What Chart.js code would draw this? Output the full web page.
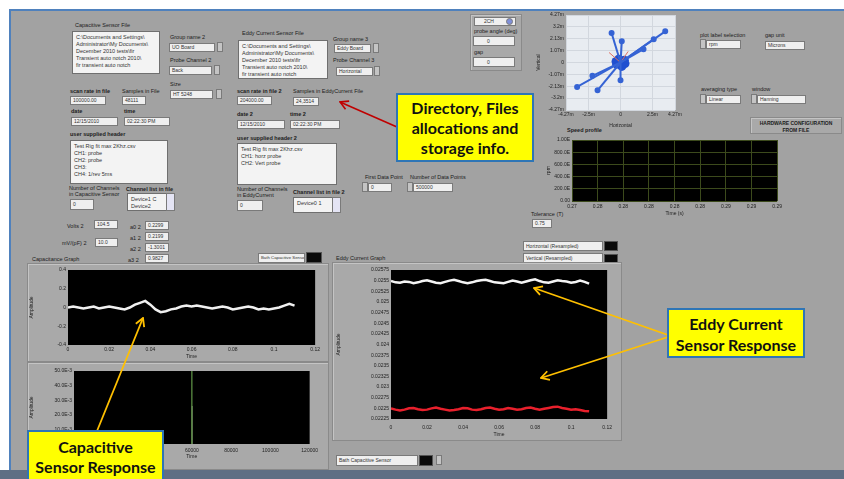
<!DOCTYPE html>
<html>
<head>
<meta charset="utf-8">
<script src="https://cdn.jsdelivr.net/npm/chart.js@4.4.1/dist/chart.umd.min.js"></script>
<style>
body { margin:0; width:844px; height:479px; position:relative; overflow:hidden; background:#fff; font-family:"Liberation Sans", Arial, sans-serif; }
#panel { position:absolute; left:9px; top:9px; width:835px; height:462px; background:#a2a2a2; border-left:2px solid #4f81bd; border-top:2px solid #4f81bd; }
#strip { position:absolute; left:0; top:470px; width:844px; height:9px; background:#5f6f84; }
.e { position:absolute; white-space:nowrap; }
.lbl { font-size:5.5px; color:#1c1c1c; }
.b { font-weight:bold; }
.box { background:#efefef; border:1px solid #7a7a7a; font-size:5px; color:#333; padding-left:2px; box-sizing:border-box; overflow:hidden; }
.area { background:#f3f3f3; border:1px solid #6f6f6f; font-size:5.5px; line-height:7.5px; color:#333; padding:2px 3px; box-sizing:border-box; overflow:hidden; }
.frame { background:#a9a9a9; border:1px solid #8a8a8a; box-shadow: inset 1px 1px 0 #c4c4c4; }
.knob { background:#c4c4c4; border:1px solid #7a7a7a; box-sizing:border-box; }
.sq { background:#0a0a0a; border:1px solid #555; box-sizing:border-box; }
.chart { position:absolute; }
.call { position:absolute; background:#ffff00; border:2px solid #2e75b6; box-sizing:border-box; font-family:Lato, "Open Sans", sans-serif; font-weight:bold; font-size:16px; color:#111; text-align:center; }
svg { position:absolute; left:0; top:0; }
</style>
</head>
<body>
<div id="panel"></div>
<div id="ui"></div>

<div class="frame e" style="left:27px;top:263px;width:300px;height:97px"></div>
<div class="frame e" style="left:27px;top:362px;width:300px;height:106px"></div>
<div class="frame e" style="left:332px;top:262px;width:288px;height:177px"></div>

<div class="chart" style="left:535px;top:9px;width:149px;height:121px"><canvas id="orbit"></canvas></div>
<div class="chart" style="left:545px;top:135px;width:240px;height:83px"><canvas id="speed"></canvas></div>
<div class="chart" style="left:28px;top:265px;width:294px;height:96px"><canvas id="cap"></canvas></div>
<div class="chart" style="left:28px;top:366px;width:294px;height:95px"><canvas id="fft"></canvas></div>
<div class="chart" style="left:335px;top:265px;width:283px;height:174px"><canvas id="eddy"></canvas></div>

<div id="strip"></div>

<svg width="844" height="479">
  <defs>
    <marker id="hr" markerUnits="userSpaceOnUse" markerWidth="12" markerHeight="12" refX="1" refY="6" orient="auto">
      <path d="M9,1.5 L1,6 L9,10.5" fill="none" stroke="#c00000" stroke-width="1.6"/>
    </marker>
    <marker id="ho" markerUnits="userSpaceOnUse" markerWidth="12" markerHeight="12" refX="1" refY="6" orient="auto">
      <path d="M9,1.5 L1,6 L9,10.5" fill="none" stroke="#ffc000" stroke-width="1.8"/>
    </marker>
  </defs>
  <line x1="340" y1="102" x2="397" y2="127" stroke="#c00000" stroke-width="1.6" marker-start="url(#hr)"/>
  <line x1="534" y1="288" x2="668" y2="335" stroke="#ffc000" stroke-width="1.8" marker-start="url(#ho)"/>
  <line x1="541" y1="378" x2="668" y2="337" stroke="#ffc000" stroke-width="1.8" marker-start="url(#ho)"/>
  <line x1="143" y1="318" x2="97" y2="431" stroke="#ffc000" stroke-width="1.8" marker-start="url(#ho)"/>
</svg>

<div class="call" style="left:396px;top:93px;width:138px;height:69px;line-height:20px;padding-top:3px">Directory, Files<br>allocations and<br>storage info.</div>
<div class="call" style="left:667px;top:308px;width:138px;height:50px;line-height:21px;padding-top:3px">Eddy Current<br>Sensor Response</div>
<div class="call" style="left:27px;top:430px;width:137px;height:55px;line-height:20px;padding-top:5px">Capacitive<br>Sensor Response</div>

<script>
// time base shared by the capacitance and eddy current traces (s)
const sampleTime = [0, 0.0025, 0.005, 0.0075, 0.01, 0.0125, 0.015, 0.0175, 0.02, 0.0225,
    0.025, 0.0275, 0.03, 0.0325, 0.035, 0.0375, 0.04, 0.0425, 0.045, 0.0475,
    0.05, 0.0525, 0.055, 0.0575, 0.06, 0.0625, 0.065, 0.0675, 0.07, 0.0725,
    0.075, 0.0775, 0.08, 0.0825, 0.085, 0.0875, 0.09, 0.0925, 0.095, 0.0975,
    0.1, 0.1025, 0.105, 0.1075, 0.11];

const capAmplitude = [0.00, 0.01, 0.00, -0.01, 0.00, 0.01, -0.01, 0.00, 0.01, 0.00,
    -0.01, -0.02, 0.00, 0.03, 0.05, 0.07, 0.03, -0.02, -0.05, -0.04,
    -0.02, -0.01, 0.01, 0.02, 0.01, 0.02, 0.01, 0.00, -0.01, 0.00,
    0.01, 0.00, -0.02, -0.01, 0.00, 0.01, 0.00, -0.02, -0.01, -0.02,
    -0.01, 0.00, 0.02, 0.04, 0.02];

const eddyHorizontal = [0.02549, 0.02546, 0.02545, 0.02548, 0.02547, 0.02544, 0.02546, 0.02549, 0.02551, 0.02548,
    0.02545, 0.02544, 0.02547, 0.02550, 0.02552, 0.02549, 0.02546, 0.02544, 0.02546, 0.02549,
    0.02551, 0.02552, 0.02549, 0.02546, 0.02545, 0.02544, 0.02547, 0.02550, 0.02548, 0.02545,
    0.02548, 0.02551, 0.02553, 0.02549, 0.02546, 0.02545, 0.02548, 0.02551, 0.02549, 0.02548,
    0.02545, 0.02547, 0.02550, 0.02547, 0.02543];

const eddyVertical = [0.02250, 0.02247, 0.02245, 0.02247, 0.02250, 0.02251, 0.02248, 0.02246, 0.02247, 0.02250,
    0.02252, 0.02249, 0.02247, 0.02245, 0.02246, 0.02248, 0.02251, 0.02250, 0.02247, 0.02246,
    0.02248, 0.02251, 0.02252, 0.02249, 0.02247, 0.02248, 0.02251, 0.02249, 0.02247, 0.02248,
    0.02251, 0.02252, 0.02249, 0.02247, 0.02249, 0.02251, 0.02253, 0.02254, 0.02251, 0.02249,
    0.02247, 0.02248, 0.02246, 0.02244, 0.02243];

// lower capacitive plot: single spike
const spikeX = [60000, 60000];
const spikeY = [0, 0.05];
const spikeCoreY = [0, 0.026];

// orbit plot: segment end points from the centre
const orbitEnds = [[3.5, 2.8], [-3.4, -2.2], [-1.8, -2.5], [0.0, -1.6], [-0.7, 2.65], [0.1, 1.9], [1.8, 1.2], [2.6, 2.1], [-2.2, -1.2]];
const orbitRed = [[-0.9, 0.9], [0.6, 1.0]];
const orbitCore = [[0, 0], [0.3, 0.2], [-0.3, -0.15], [0.1, -0.35], [-0.15, 0.3], [0.35, -0.1], [-0.35, 0.1]];

// tick values
const timeTicks = [0, 0.02, 0.04, 0.06, 0.08, 0.1, 0.12];
const capYTicks = [-0.4, -0.2, 0, 0.2, 0.4];
const fftXTicks = [0, 20000, 40000, 60000, 80000, 100000, 120000];
const fftYTicks = [0, 0.01, 0.02, 0.03, 0.04, 0.05];
const eddyYTicks = [0.02225, 0.0225, 0.02275, 0.023, 0.02325, 0.0235, 0.02375, 0.024, 0.02425,
    0.0245, 0.02475, 0.025, 0.02525, 0.0255, 0.02575];
const speedXTicks = [0.274, 0.276, 0.278, 0.28, 0.282, 0.284, 0.286, 0.288, 0.29];
const speedYTicks = [0, 0.2, 0.4, 0.6, 0.8, 1.0];
const orbitXTicks = [-4.27, -2.5, 0, 2.5, 4.27];
const orbitYTicks = [-4.27, -3.2, -2.13, -1.07, 0, 1.07, 2.13, 3.2, 4.27];

// ---- front panel controls ----
const ui = document.getElementById('ui');
function put(cls, x, y, w, h, text) {
    let d = document.createElement('div');
    d.className = 'e ' + cls;
    d.style.left = x + 'px';
    d.style.top = y + 'px';
    if (w) d.style.width = w + 'px';
    if (h) { d.style.height = h + 'px'; d.style.lineHeight = (h - 2) + 'px'; }
    if (text) d.innerHTML = text;
    ui.appendChild(d);
    return d;
}
function lbl(x, y, t, bold) { put('lbl' + (bold ? ' b' : ''), x, y, 0, 0, t); }
function box(x, y, w, h, t) { return put('box', x, y, w, h, t); }
function area(x, y, w, h, lines) { let d = put('area', x, y, w, h, lines.join('<br>')); d.style.lineHeight = '7px'; }
function knob(x, y) { put('knob', x, y, 6, 10); }

const pathLines = ['C:\\Documents and Settings\\', 'Administrator\\My Documents\\', 'December 2010 tests\\fir', 'Transient auto notch 2010\\', 'fir transient auto notch'];

lbl(75, 22, 'Capacitive Sensor File');
area(72, 31, 88, 43, pathLines);
lbl(170, 34, 'Group name 2'); box(169, 43, 46, 9, 'UO Board'); knob(217, 42);
lbl(170, 57, 'Probe Channel 2'); box(169, 66, 43, 9, 'Back'); knob(214, 65);
lbl(170, 81, 'Size'); box(170, 90, 43, 9, 'HT 5248'); knob(216, 89);
lbl(70, 88, 'scan rate in file', true); lbl(122, 88, 'Samples in File');
box(70, 96, 36, 9, '100000.00'); box(122, 96, 24, 9, '48111');
lbl(71, 108, 'date', true); lbl(124, 108, 'time', true);
box(71, 117, 47, 9, '12/15/2010'); box(124, 117, 46, 9, '02:22:30 PM');
lbl(70, 131, 'user supplied header', true);
area(70, 140, 98, 44, ['Test Rig fit max 2Khz.csv', 'CH1: probe', 'CH2: probe', 'CH3:', 'CH4: 1/rev 5ms']);
lbl(69, 185, 'Number of Channels'); lbl(69, 191, 'in Capacitive Sensor');
lbl(126, 186, 'Channel list in file', true);
box(70, 199, 24, 11, '0');
area(127, 193, 40, 18, ['Device1 C', 'Device2']);
put('knob', 166, 193, 9, 18).style.background = '#e4e4f4';
lbl(67, 223, 'Volts 2'); box(94, 220, 24, 9, '104.5');
lbl(62, 240, 'mV/(pF) 2'); box(95, 238, 23, 9, '10.0');
lbl(130, 224, 'a0 2'); box(145, 221, 24, 9, '0.2299');
lbl(130, 235, 'a1 2'); box(145, 232, 24, 9, '0.2199');
lbl(130, 246, 'a2 2'); box(145, 243, 24, 9, '-1.3001');
lbl(128, 257, 'a3 2'); box(145, 254, 24, 9, '0.9827');

lbl(242, 30, 'Eddy Current Sensor File');
area(238, 40, 90, 39, pathLines);
lbl(333, 36, 'Group name 3'); box(334, 44, 37, 9, 'Eddy Board'); knob(373, 43);
lbl(333, 57, 'Probe Channel 3'); box(336, 67, 37, 9, 'Horizontal'); knob(374, 66);
lbl(237, 88, 'scan rate in file 2', true); lbl(293, 88, 'Samples in EddyCurrent File');
box(237, 96, 35, 9, '204000.00'); box(293, 97, 26, 9, '24,3514');
lbl(237, 111, 'date 2', true); lbl(290, 111, 'time 2', true);
box(237, 120, 48, 9, '12/15/2010'); box(290, 120, 50, 9, '02:22:30 PM');
lbl(237, 135, 'user supplied header 2', true);
area(237, 143, 100, 42, ['Test Rig fit max 2Khz.csv', 'CH1: horz probe', 'CH2: Vert probe']);
lbl(237, 186, 'Number of Channels'); lbl(237, 192, 'in EddyCurrent');
box(237, 200, 26, 11, '0');
lbl(293, 189, 'Channel list in file 2', true);
area(293, 197, 40, 16, ['Device0 1']);
put('knob', 332, 197, 9, 16).style.background = '#e4e4f4';
lbl(365, 174, 'First Data Point'); knob(362, 182); box(368, 183, 24, 9, '0');
lbl(410, 174, 'Number of Data Points'); knob(407, 182); box(413, 183, 40, 9, '500000');

put('frame', 470, 14, 50, 55);
box(474, 17, 42, 9, '&nbsp;&nbsp;&nbsp;&nbsp;&nbsp;2CH');
put('knob', 506, 18, 7, 7).style.cssText += 'border-radius:50%;background:#7f8fd8';
lbl(474, 28, 'probe angle (deg)'); box(473, 36, 42, 10, '&nbsp;&nbsp;&nbsp;&nbsp;&nbsp;&nbsp;&nbsp;&nbsp;0');
lbl(474, 49, 'gap'); box(473, 57, 42, 10, '&nbsp;&nbsp;&nbsp;&nbsp;&nbsp;&nbsp;&nbsp;&nbsp;0');

lbl(700, 32, 'plot label selection'); knob(700, 39); box(706, 40, 35, 9, 'rpm');
lbl(765, 32, 'gap unit'); box(765, 41, 40, 9, 'Microns');
lbl(701, 86, 'averaging type'); knob(700, 94); box(706, 95, 35, 9, 'Linear');
lbl(752, 86, 'window'); knob(751, 94); box(757, 95, 49, 9, 'Hanning');
let hw = put('frame lbl b', 750, 117, 92, 17, 'HARDWARE CONFIGURATION<br>FROM FILE');
hw.style.cssText += 'text-align:center;line-height:6.5px;font-size:5px;padding-top:2px;box-sizing:border-box';
lbl(567, 127, 'Speed profile', true);
lbl(531, 211, 'Tolerance (T)'); box(532, 219, 20, 9, '0.75');

lbl(32, 256, 'Capacitance Graph');
box(258, 253, 47, 10, 'Bath Capacitive Sensor').style.fontSize = '4.3px'; put('sq', 306, 252, 16, 11);
lbl(336, 255, 'Eddy Current Graph');
box(523, 241, 80, 10, 'Horizontal (Resampled)'); put('sq', 604, 241, 14, 10);
box(523, 253, 80, 10, 'Vertical (Resampled)'); put('sq', 604, 254, 14, 10);
box(336, 455, 82, 11, 'Bath Capacitive Sensor'); put('sq', 419, 455, 14, 11); knob(436, 455);

// ---- charts ----
const plotBg = {
    id: 'plotBg',
    beforeDraw(chart, args, opts) {
        let a = chart.chartArea;
        chart.ctx.save();
        chart.ctx.fillStyle = opts.color;
        chart.ctx.fillRect(a.left, a.top, a.width, a.height);
        chart.ctx.restore();
    }
};

const tickFont = { size: 5, family: 'Liberation Sans' };

function axis(min, max, ticks, title, size, isY, fmt, grid, pad) {
    return {
        type: 'linear', min: min, max: max,
        afterBuildTicks: s => { s.ticks = ticks.map(v => ({ value: v })); },
        afterFit: s => { if (isY) s.width = size; else s.height = size; },
        ticks: { font: tickFont, color: '#222', padding: pad || 2, autoSkip: false, maxRotation: 0, callback: fmt },
        grid: grid || { display: false, drawTicks: false },
        border: { display: false },
        title: { display: true, text: title, font: tickFont, color: '#222', padding: 1 }
    };
}

function baseOptions(pad, bg, scales) {
    return {
        responsive: true,
        maintainAspectRatio: false,
        animation: false,
        layout: { padding: pad },
        plugins: { legend: { display: false }, tooltip: { enabled: false }, plotBg: { color: bg } },
        scales: scales
    };
}

const num = v => String(+v.toFixed(5));
const pts = (xs, ys) => xs.map((x, i) => ({ x: x, y: ys[i] }));

new Chart(document.getElementById('cap'), {
    type: 'line',
    data: { datasets: [{ data: pts(sampleTime, capAmplitude), borderColor: '#f0f0f0', borderWidth: 2.5, pointRadius: 0 }] },
    options: baseOptions({ top: 4, right: 5 }, '#000', {
        x: axis(0, 0.12, timeTicks, 'Time', 16, false, num),
        y: axis(-0.4, 0.4, capYTicks, 'Amplitude', 40, true, num)
    }),
    plugins: [plotBg]
});

new Chart(document.getElementById('fft'), {
    type: 'line',
    data: {
        datasets: [
            { data: pts(spikeX, spikeY), borderColor: '#4f7a3a', borderWidth: 1.5, pointRadius: 0 },
            { data: pts(spikeX, spikeCoreY), borderColor: '#b9c9a8', borderWidth: 1.5, pointRadius: 0 }
        ]
    },
    options: baseOptions({ top: 4, right: 5 }, '#000', {
        x: axis(0, 120000, fftXTicks, 'Time', 17, false, v => String(v), null, 4),
        y: axis(0, 0.05, fftYTicks, 'Amplitude', 46, true, v => v === 0 ? '0' : (v * 1000).toFixed(1) + 'E-3')
    }),
    plugins: [plotBg]
});

new Chart(document.getElementById('eddy'), {
    type: 'line',
    data: {
        datasets: [
            { data: pts(sampleTime, eddyHorizontal), borderColor: '#f4f4f4', borderWidth: 2.5, pointRadius: 0 },
            { data: pts(sampleTime, eddyVertical), borderColor: '#e8202c', borderWidth: 2.5, pointRadius: 0 }
        ]
    },
    options: baseOptions({ top: 4, right: 5 }, '#000', {
        x: axis(0, 0.12, timeTicks, 'Time', 20, false, num, null, 6),
        y: axis(0.02225, 0.02575, eddyYTicks, 'Amplitude', 56, true, num)
    }),
    plugins: [plotBg]
});

new Chart(document.getElementById('speed'), {
    type: 'line',
    data: { datasets: [] },
    options: baseOptions({ top: 4, right: 3 }, '#000', {
        x: axis(0.274, 0.29, speedXTicks, 'Time (s)', 17, false, v => v.toFixed(2), { color: '#3c4a1c', drawTicks: false }, 3),
        y: axis(0, 1, speedYTicks, 'rpm', 27, true, v => v === 1 ? '1.00E' : v === 0 ? '0.00' : (v * 1000).toFixed(1) + 'E', { color: '#3c4a1c', drawTicks: false })
    }),
    plugins: [plotBg]
});

const orbitSets = orbitEnds.map(p => ({
    data: [{ x: 0, y: 0 }, { x: p[0], y: p[1] }], showLine: true, borderColor: '#3563d4', borderWidth: 2, pointRadius: [0, 2], pointBackgroundColor: '#3563d4'
}));
orbitRed.forEach(p => orbitSets.push({
    data: [{ x: 0, y: 0 }, { x: p[0], y: p[1] }], showLine: true, borderColor: '#e07060', borderWidth: 1, pointRadius: 0
}));
orbitSets.push({ data: orbitCore.map(p => ({ x: p[0], y: p[1] })), pointRadius: 4.5, pointBackgroundColor: '#1f4fd0', pointBorderWidth: 0 });

new Chart(document.getElementById('orbit'), {
    type: 'scatter',
    data: { datasets: orbitSets },
    options: baseOptions({ top: 4, right: 3 }, '#e8ecf1', {
        x: axis(-4.27, 4.27, orbitXTicks, 'Horizontal', 20, false, v => v === 0 ? '0' : v + 'm', { color: '#d2d7de', drawTicks: false }),
        y: axis(-4.27, 4.27, orbitYTicks, 'Vertical', 31, true, v => v === 0 ? '0' : v + 'm', { color: '#d2d7de', drawTicks: false })
    }),
    plugins: [plotBg]
});
</script>
</body>
</html>
